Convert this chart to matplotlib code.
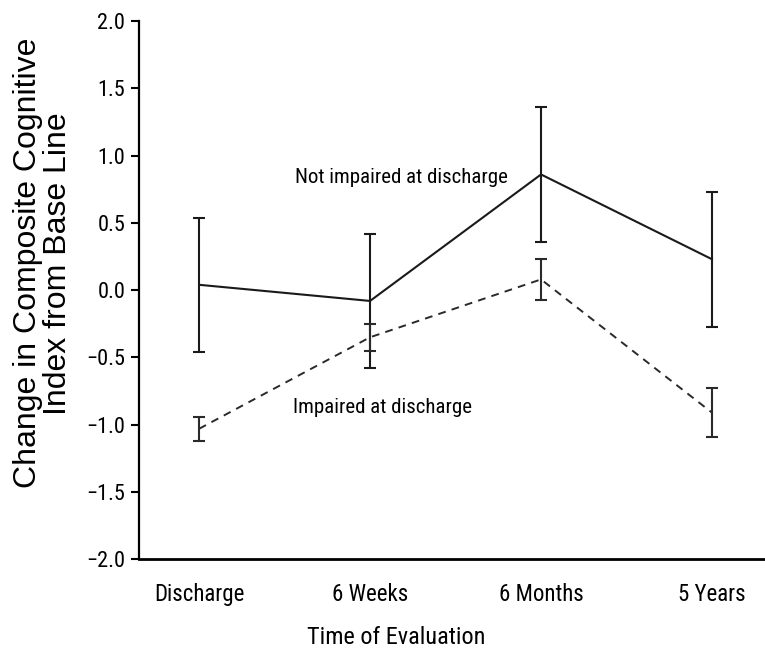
import numpy as np
import matplotlib
matplotlib.use("Agg")
from matplotlib import pyplot as plt

# change from base line, mean +/- error, per evaluation time
times = ['Discharge', '6 Weeks', '6 Months', '5 Years']
not_impaired = [0.04, -0.08, 0.86, 0.23]
not_impaired_err = [0.50, 0.50, 0.50, 0.50]
impaired = [-1.03, -0.35, 0.08, -0.91]
impaired_err = [0.09, 0.10, 0.15, 0.18]
yticks = [-2.0, -1.5, -1.0, -0.5, 0.0, 0.5, 1.0, 1.5, 2.0]

narrow = ['Roboto Condensed', 'Archivo Narrow', 'PT Sans Narrow', 'Liberation Sans', 'DejaVu Sans']
plain = ['Liberation Sans', 'DejaVu Sans']

fig = plt.figure(figsize=(7.65, 6.58), dpi=100)
ax = fig.add_axes([0.182, 0.150, 0.818, 0.818])

x = np.arange(len(times))

ax.errorbar(x, not_impaired, yerr=not_impaired_err, color='#1a1a1a', lw=1.5,
            elinewidth=1.5, capsize=4.5, capthick=1.5, ls='-')
ax.errorbar(x, impaired, yerr=impaired_err, color='#2a2a2a', lw=1.4,
            elinewidth=1.5, capsize=4.5, capthick=1.5, ls=(0, (4, 3.2)))

ax.text(0.56, 0.84, 'Not impaired at discharge', family=narrow, fontsize=15,
        ha='left', va='center')
ax.text(0.55, -0.87, 'Impaired at discharge', family=narrow, fontsize=15,
        ha='left', va='center')

ax.set_xlim(-0.35, 3.31)
ax.set_ylim(-2.0, 2.0)
ax.set_yticks(yticks)
ax.set_yticklabels(['\u2212%.1f' % abs(v) if v < 0 else '%.1f' % v for v in yticks],
                   family=narrow, fontsize=16)
ax.set_xticks(x)
ax.set_xticklabels(times, family=narrow, fontsize=16.5)
ax.tick_params(axis='x', length=0, pad=17)
ax.tick_params(axis='y', length=6, width=1.5, direction='out', pad=4)

for side in ['top', 'right']:
    ax.spines[side].set_visible(False)
ax.spines['left'].set_linewidth(1.6)
ax.spines['bottom'].set_linewidth(2.0)
ax.spines['left'].set_bounds(-2.0, 2.0)

ax.set_xlabel('Time of Evaluation', family=narrow, fontsize=17.5)
ax.xaxis.set_label_coords(0.41, -0.124)
ax.set_ylabel('Change in Composite Cognitive\nIndex from Base Line', family=plain,
              fontsize=23, linespacing=0.98)
ax.yaxis.set_label_coords(-0.106, 0.55)

fig.savefig('out.png', dpi=100)
